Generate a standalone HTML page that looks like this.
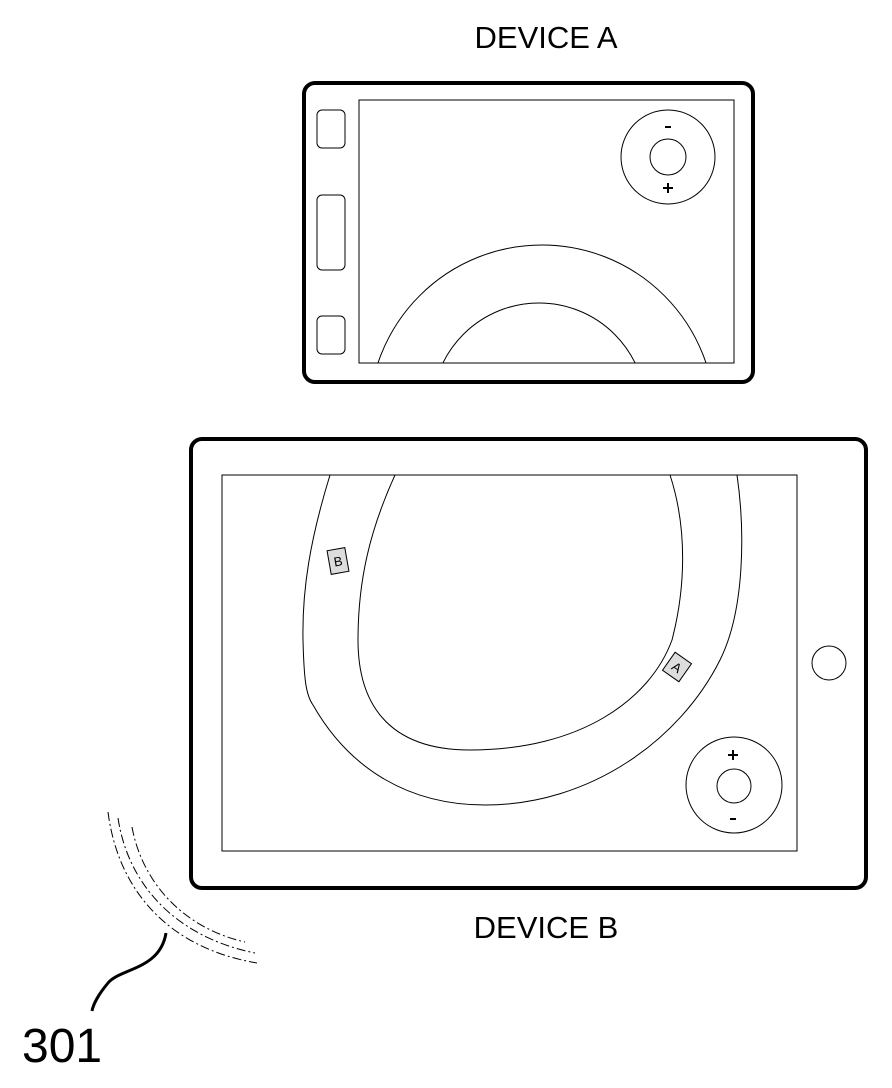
<!DOCTYPE html>
<html><head><style>
body{margin:0;background:#fff;}
svg{display:block;}
text{font-family:"Liberation Sans",sans-serif;fill:#000;}
</style></head><body>
<svg width="892" height="1088" viewBox="0 0 892 1088" xmlns="http://www.w3.org/2000/svg">
<text x="546" y="48" font-size="31" text-anchor="middle">DEVICE A</text>
<rect x="304" y="83" width="449" height="299" rx="11" fill="none" stroke="#000" stroke-width="4"/>
<rect x="359" y="100" width="375" height="263" fill="none" stroke="#000" stroke-width="1"/>
<rect x="317" y="110" width="28" height="38" rx="5" fill="none" stroke="#000" stroke-width="1"/>
<rect x="317" y="195" width="28" height="75" rx="5" fill="none" stroke="#000" stroke-width="1"/>
<rect x="317" y="316" width="28" height="38" rx="5" fill="none" stroke="#000" stroke-width="1"/>
<circle cx="668" cy="157" r="47" fill="none" stroke="#000"/>
<circle cx="668" cy="157" r="18" fill="none" stroke="#000"/>
<line x1="665" y1="127" x2="671" y2="127" stroke="#000" stroke-width="2"/>
<line x1="663" y1="188" x2="673" y2="188" stroke="#000" stroke-width="2"/>
<line x1="668" y1="183" x2="668" y2="193" stroke="#000" stroke-width="2"/>
<clipPath id="ca"><rect x="359" y="100" width="375" height="263"/></clipPath>
<g clip-path="url(#ca)" fill="none" stroke="#000">
<circle cx="542" cy="418" r="173"/>
<circle cx="539" cy="410" r="107"/>
</g>

<rect x="191" y="439" width="675" height="449" rx="11" fill="none" stroke="#000" stroke-width="4"/>
<rect x="222" y="475" width="575" height="376" fill="none" stroke="#000" stroke-width="1"/>
<circle cx="829" cy="663" r="17" fill="none" stroke="#000"/>
<circle cx="734" cy="785" r="48" fill="none" stroke="#000"/>
<circle cx="734" cy="786" r="17" fill="none" stroke="#000"/>
<line x1="728" y1="755" x2="738" y2="755" stroke="#000" stroke-width="2"/>
<line x1="733" y1="750" x2="733" y2="760" stroke="#000" stroke-width="2"/>
<line x1="730" y1="819" x2="736" y2="819" stroke="#000" stroke-width="2"/>
<g fill="none" stroke="#000" stroke-width="1">
<path d="M330 475 C310 540 302 590 303 640 C304 680 306 695 313 705 C350 770 410 805 485 805 C590 805 680 740 720 660 C745 610 745 530 737 475"/>
<path d="M395 475 C370 530 358 580 358 640 C358 700 385 750 470 750 C580 750 650 700 672 640 C685 590 688 530 670 475"/>
</g>
<g transform="translate(338,561) rotate(-10)">
<rect x="-9" y="-12" width="18" height="24" fill="#ddd" stroke="#000"/>
<text x="0" y="5" font-size="13" text-anchor="middle">B</text>
</g>
<g transform="translate(677,667) rotate(35)">
<rect x="-10" y="-11" width="20" height="22" fill="#ddd" stroke="#000"/>
<text x="0" y="5" font-size="13" text-anchor="middle">A</text>
</g>
<text x="546" y="938" font-size="31" text-anchor="middle">DEVICE B</text>

<g fill="none" stroke="#000" stroke-width="1" stroke-dasharray="9,3,2,3">
<path d="M108 812 C118 890 168 948 257 963"/>
<path d="M118 818 C128 885 176 937 255 953"/>
<path d="M132 827 C142 882 183 928 245 942"/>
</g>
<path d="M166 933 C160 970 120 968 108 983 C98 995 93 1005 92 1011" fill="none" stroke="#000" stroke-width="3"/>
<text x="22" y="1062" font-size="48">301</text>
</svg>
</body></html>
